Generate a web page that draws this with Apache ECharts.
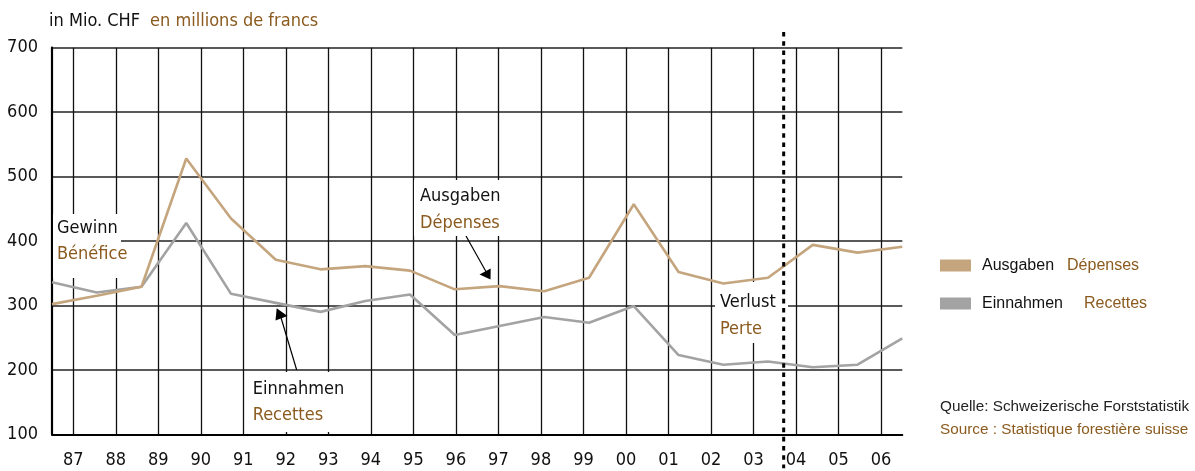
<!DOCTYPE html>
<html>
<head>
<meta charset="utf-8">
<script src="https://cdn.jsdelivr.net/npm/echarts@6/dist/echarts.min.js"></script>
<style>
html,body{margin:0;padding:0;background:#fff;}
#chart{width:1195px;height:471px;}
</style>
</head>
<body>
<div id="chart"></div>
<script>
// ---- data ----
const years = ['87','88','89','90','91','92','93','94','95','96','97','98','99','00','01','02','03','04','05','06'];
const ausgaben  = [302, 315, 329, 528, 435, 371, 356, 361, 354, 325, 330, 322, 343, 457, 352, 334, 343, 394, 382, 391];
const einnahmen = [336, 320, 329, 428, 318, 304, 290, 307, 317, 254, 268, 282, 273, 299, 223, 208, 213, 204, 208, 249];
const yTicks = { min: 100, max: 700, interval: 100 };
const breakPos = [17.21]; // position of dotted separator in band units (0..20)

const FONT = "'DejaVu Sans Condensed','Liberation Sans Narrow','DejaVu Sans',sans-serif";
const FONT2 = "'Liberation Sans','DejaVu Sans',sans-serif";
const FS = 18;
const TAN = '#C4A57E';
const GRAY = '#A3A3A3';
const BROWN = '#8B5A1E';
const INK = '#111';

const chart = echarts.init(document.getElementById('chart'), null, { renderer: 'canvas' });

function box(x, y, w, h) {
  return { type: 'rect', shape: { x, y, width: w, height: h }, style: { fill: '#fff' }, z: 1, silent: true };
}
function txt(x, y, t, color) {
  return { type: 'text', x, y, style: { text: t, fill: color, font: FS + 'px ' + FONT, textVerticalAlign: 'middle', verticalAlign: 'middle' }, z: 3, silent: true };
}

const option = {
  animation: false,
  backgroundColor: '#fff',
  title: {
    text: '{a|in Mio. CHF}  {b|en millions de francs}',
    left: 49, top: 12.5, padding: 0,
    textStyle: {
      fontWeight: 'normal',
      rich: {
        a: { fontFamily: FONT, fontSize: FS, fontWeight: 'normal', color: INK },
        b: { fontFamily: FONT, fontSize: FS, fontWeight: 'normal', color: BROWN }
      }
    }
  },
  legend: {
    orient: 'vertical',
    left: 940, top: 257.5, padding: 0,
    itemWidth: 31, itemHeight: 12, itemGap: 22,
    icon: 'rect',
    data: ['Ausgaben', 'Einnahmen'],
    formatter: function (name) {
      return name === 'Ausgaben' ? '{a|Ausgaben}{b1|Dépenses}' : '{a|Einnahmen}{b2|Recettes}';
    },
    textStyle: {
      rich: {
        a: { fontFamily: FONT2, fontSize: 16, color: INK, padding: [0, 0, 0, 6], lineHeight: 16 },
        b1: { fontFamily: FONT2, fontSize: 16, color: BROWN, padding: [0, 0, 0, 13], lineHeight: 16 },
        b2: { fontFamily: FONT2, fontSize: 16, color: BROWN, padding: [0, 0, 0, 21], lineHeight: 16 }
      }
    }
  },
  grid: { left: 52, right: 292.7, top: 47.7, bottom: 36.7, containLabel: false },
  xAxis: [
    {
      type: 'category', data: years, boundaryGap: true,
      axisLine: { show: true, lineStyle: { color: '#000', width: 2 } },
      axisTick: { show: true, inside: true, alignWithLabel: true, length: 386.6, lineStyle: { color: INK, width: 1.3 } },
      axisLabel: { fontFamily: FONT, fontSize: FS, color: INK, margin: 17 },
      splitLine: { show: false }
    },
    { type: 'category', data: years, boundaryGap: false, show: false },
    { type: 'value', min: 0, max: 20, show: false }
  ],
  yAxis: {
    type: 'value', min: yTicks.min, max: yTicks.max, interval: yTicks.interval,
    axisLine: { show: true, lineStyle: { color: '#000', width: 2.2 } },
    axisTick: { show: false },
    axisLabel: { fontFamily: FONT, fontSize: FS, color: INK, margin: 14 },
    splitLine: { show: true, lineStyle: { color: '#222', width: 1.6 } }
  },
  series: [
    {
      name: 'Einnahmen', type: 'line', xAxisIndex: 1, data: einnahmen,
      symbol: 'none', lineStyle: { color: GRAY, width: 2.6 }, itemStyle: { color: GRAY }, z: 3
    },
    {
      name: 'Ausgaben', type: 'line', xAxisIndex: 1, data: ausgaben,
      symbol: 'none', lineStyle: { color: TAN, width: 2.6 }, itemStyle: { color: TAN }, z: 4
    },
    {
      type: 'custom', xAxisIndex: 2, yAxisIndex: 0, data: breakPos.map(v => [v]),
      clip: false, silent: true, z: 10,
      renderItem: function (params, api) {
        const x = api.coord([api.value(0), yTicks.max])[0];
        const top = api.coord([0, yTicks.max])[1];
        const bot = api.coord([0, yTicks.min])[1];
        return {
          type: 'line',
          shape: { x1: x, y1: top - 15.7, x2: x, y2: bot + 34 },
          style: { stroke: '#000', lineWidth: 3, lineDash: [4.6, 4.6] }
        };
      }
    }
  ],
  graphic: [
    // label boxes (white backgrounds over the grid)
    box(53, 214, 68, 64),
    box(414, 180, 86, 56),
    box(245, 372, 96, 60),
    box(715, 282, 73, 61),
    txt(57, 228.7, 'Gewinn', INK),
    txt(57, 254, 'Bénéfice', BROWN),
    txt(420, 196.7, 'Ausgaben', INK),
    txt(420, 223, 'Dépenses', BROWN),
    txt(252.7, 389.5, 'Einnahmen', INK),
    txt(252.7, 415.5, 'Recettes', BROWN),
    txt(720, 302.7, 'Verlust', INK),
    txt(720, 329, 'Perte', BROWN),
    // arrows
    { type: 'line', shape: { x1: 466, y1: 236, x2: 486.5, y2: 272.5 }, style: { stroke: '#000', lineWidth: 1.2 }, z: 3, silent: true },
    { type: 'polygon', shape: { points: [[490.5, 279.5], [479.5, 274.5], [490.7, 268.5]] }, style: { fill: '#000' }, z: 3, silent: true },
    { type: 'line', shape: { x1: 296.7, y1: 370, x2: 280.5, y2: 316 }, style: { stroke: '#000', lineWidth: 1.2 }, z: 3, silent: true },
    { type: 'polygon', shape: { points: [[276.7, 308.3], [275.5, 320.5], [287.5, 316]] }, style: { fill: '#000' }, z: 3, silent: true },
    // source
    { type: 'text', x: 940, y: 406.7, style: { text: 'Quelle: Schweizerische Forststatistik', fill: '#222', font: '15.3px ' + FONT2, verticalAlign: 'middle', textVerticalAlign: 'middle' }, silent: true },
    { type: 'text', x: 940, y: 430, style: { text: 'Source : Statistique forestière suisse', fill: BROWN, font: '15.3px ' + FONT2, verticalAlign: 'middle', textVerticalAlign: 'middle' }, silent: true }
  ]
};
chart.setOption(option);
</script>
</body>
</html>
